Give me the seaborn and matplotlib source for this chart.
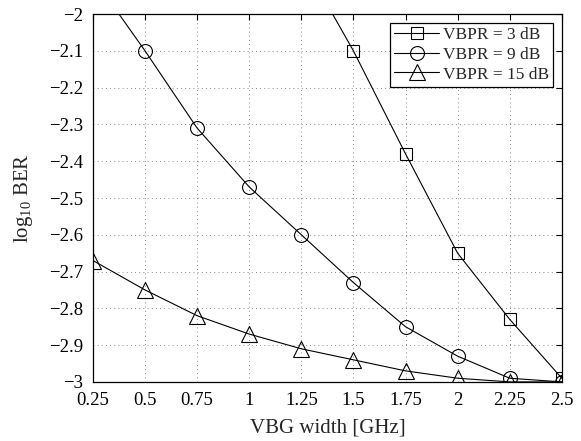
import matplotlib
matplotlib.use("Agg")
import matplotlib.pyplot as plt
import seaborn as sns

# --- data ---
vbg_width = [0.25, 0.5, 0.75, 1.0, 1.25, 1.5, 1.75, 2.0, 2.25, 2.5]
ber_3db = [None, None, None, None, -1.85, -2.10, -2.38, -2.65, -2.83, -2.99]
ber_9db = [-1.90, -2.10, -2.31, -2.47, -2.60, -2.73, -2.85, -2.93, -2.99, -3.00]
ber_15db = [-2.67, -2.75, -2.82, -2.87, -2.91, -2.94, -2.97, -2.99, -3.00, -3.00]

series = [
    ("VBPR = 3 dB", ber_3db, "s", 8),
    ("VBPR = 9 dB", ber_9db, "o", 10),
    ("VBPR = 15 dB", ber_15db, "^", 11),
]
x_ticks = [0.25, 0.5, 0.75, 1, 1.25, 1.5, 1.75, 2, 2.25, 2.5]
x_tick_labels = ["0.25", "0.5", "0.75", "1", "1.25", "1.5", "1.75", "2", "2.25", "2.5"]
y_ticks = [-2, -2.1, -2.2, -2.3, -2.4, -2.5, -2.6, -2.7, -2.8, -2.9, -3]
y_tick_labels = ["\u22122", "\u22122.1", "\u22122.2", "\u22122.3", "\u22122.4", "\u22122.5",
                 "\u22122.6", "\u22122.7", "\u22122.8", "\u22122.9", "\u22123"]

sns.set_style("white")
plt.rcParams["font.family"] = ["Liberation Serif", "DejaVu Serif"]
plt.rcParams["mathtext.fontset"] = "custom"
plt.rcParams["mathtext.rm"] = "Liberation Serif"

fig = plt.figure(figsize=(5.81, 4.41), dpi=100)
ax = fig.add_axes([0.160, 0.134, 0.807, 0.834])

for label, vals, mk, ms in series:
    xs = [x for x, v in zip(vbg_width, vals) if v is not None]
    ys = [v for v in vals if v is not None]
    sns.lineplot(x=xs, y=ys, ax=ax, color="black", linewidth=0.8, marker=mk,
                 markersize=ms, markerfacecolor="none", markeredgecolor="black",
                 markeredgewidth=0.8, label=label)

ax.set_xlim(0.25, 2.5)
ax.set_ylim(-3, -2)
ax.set_xticks(x_ticks)
ax.set_xticklabels(x_tick_labels)
ax.set_yticks(y_ticks)
ax.set_yticklabels(y_tick_labels)
ax.tick_params(direction="in", length=4, width=0.8, top=True, right=True,
               labelsize=13.5, colors="black", pad=7)
ax.grid(True, linestyle=(0, (1, 4)), linewidth=0.6, color="#666666")
for sp in ax.spines.values():
    sp.set_visible(True)
    sp.set_color("black")
    sp.set_linewidth(0.9)

ax.set_xlabel("VBG width [GHz]", fontsize=15, labelpad=7)
ax.set_ylabel(r"log$_{10}$ BER", fontsize=15, labelpad=10)

leg = ax.legend(loc="upper right", fontsize=12.5, frameon=True, fancybox=False,
                edgecolor="black", framealpha=1, handlelength=2.6,
                borderaxespad=0.5, borderpad=0.25, labelspacing=0.2, handletextpad=0.2)
leg.get_frame().set_linewidth(0.9)

fig.savefig("out.png", dpi=100)
